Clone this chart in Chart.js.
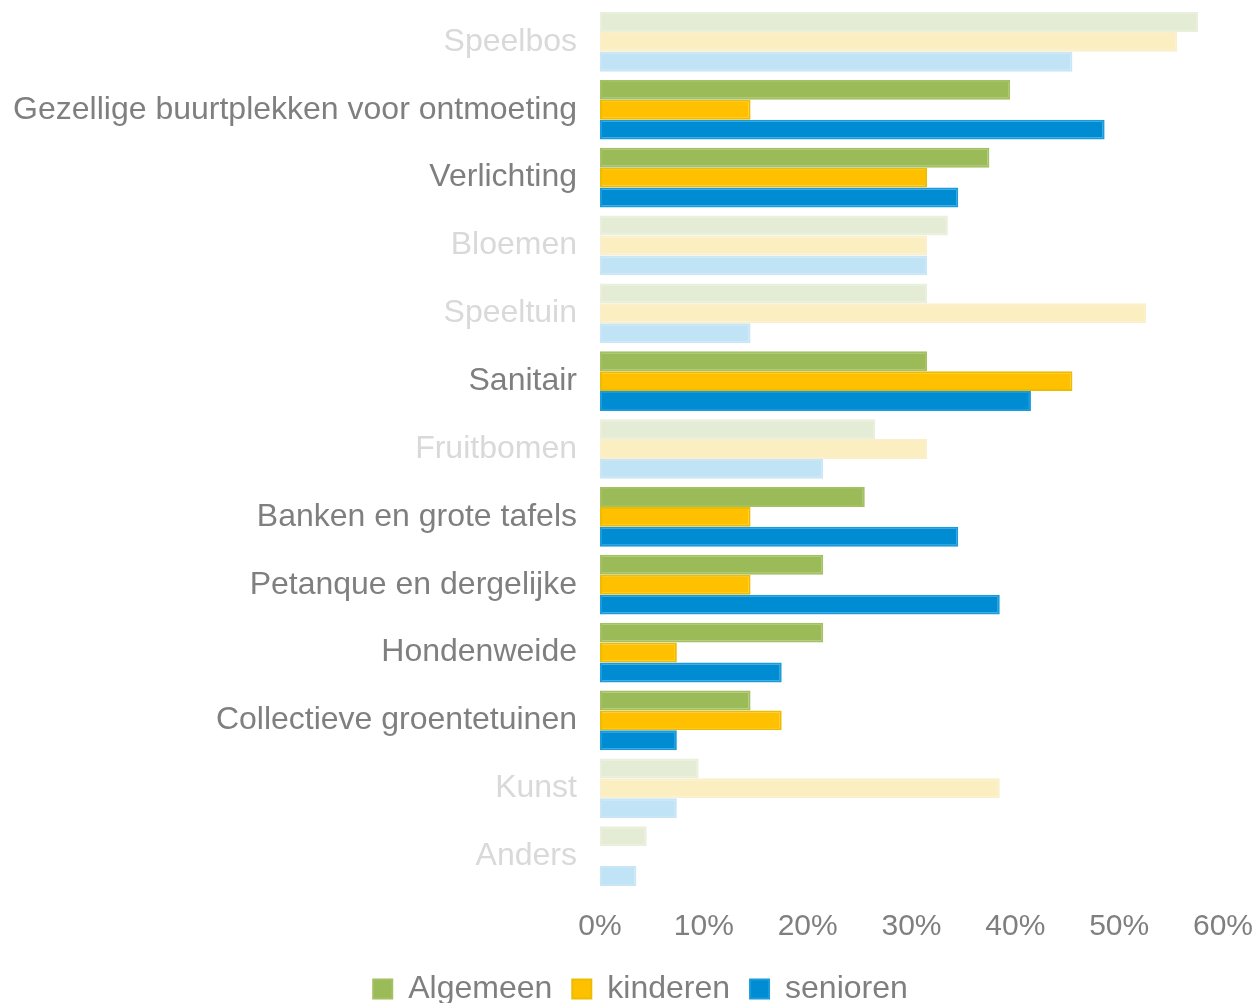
<!DOCTYPE html>
<html>
<head>
<meta charset="utf-8">
<script src="https://cdn.jsdelivr.net/npm/chart.js@4/dist/chart.umd.min.js"></script>
<style>
  html,body{margin:0;padding:0;background:#fff;}
  #wrap{width:1259px;height:1003px;}
</style>
</head>
<body>
<div id="wrap"><canvas id="chart"></canvas></div>
<script>
/* ---------------- data ---------------- */
const categories = [
  'Speelbos','Gezellige buurtplekken voor ontmoeting','Verlichting','Bloemen','Speeltuin',
  'Sanitair','Fruitbomen','Banken en grote tafels','Petanque en dergelijke','Hondenweide',
  'Collectieve groentetuinen','Kunst','Anders'
];
// categories shown faded in the reference
const faded = [true,false,false,true,true,false,true,false,false,false,false,true,true];

const algemeen  = [57.6, 39.5, 37.5, 33.5, 31.5, 31.5, 26.5, 25.5, 21.5, 21.5, 14.5,  9.5, 4.5];
const kinderen  = [55.6, 14.5, 31.5, 31.5, 52.6, 45.5, 31.5, 14.5, 14.5,  7.4, 17.5, 38.5, 0];
const senioren  = [45.5, 48.6, 34.5, 31.5, 14.5, 41.5, 21.5, 34.5, 38.5, 17.5,  7.4,  7.4, 3.5];

const xTicks = [0,10,20,30,40,50,60];

/* ---------------- styles ---------------- */
const FONT = '"Liberation Sans", Arial, sans-serif';
const GRAY = '#7f7f7f', LIGHT = '#d9d9d9';
const pal = {
  Algemeen: {fill:'#9bbb59', edge:'#a3c063', fillF:'#e4ecd5', edgeF:'#e8efdb'},
  kinderen: {fill:'#ffc000', edge:'#edbb00', fillF:'#fbeec0', edgeF:'#faefca'},
  senioren: {fill:'#008cd2', edge:'#1a9bdb', fillF:'#c0e3f5', edgeF:'#c8e6f6'}
};
const byCat = (on, off) => faded.map(f => f ? off : on);

const mkSet = (label, data) => ({
  label, data,
  backgroundColor: byCat(pal[label].fill, pal[label].fillF),
  borderColor: byCat(pal[label].edge, pal[label].edgeF),
  borderWidth: 2,
  borderSkipped: false,
  categoryPercentage: 0.88,
  barPercentage: 1.0
});

// nudge the legend row a bit right/up, like the original
const legendShift = {
  id: 'legendShift',
  afterLayout(chart){
    const lg = chart.legend;
    if(lg){ lg.left += 22; lg.right += 22; lg.top -= 3; lg.bottom -= 3; }
  }
};

new Chart(document.getElementById('chart'), {
  type: 'bar',
  data: {
    labels: categories,
    datasets: [mkSet('Algemeen', algemeen), mkSet('kinderen', kinderen), mkSet('senioren', senioren)]
  },
  plugins: [legendShift],
  options: {
    indexAxis: 'y',
    responsive: true,
    maintainAspectRatio: false,
    animation: false,
    layout: {padding: {top: 8, left: 14, right: 36, bottom: -15}},
    scales: {
      x: {
        min: 0, max: 60,
        afterBuildTicks: s => { s.ticks = xTicks.map(v => ({value: v})); },
        afterFit: s => { s.height = 66; s.paddingLeft = 0; s.paddingRight = 0; },
        grid: {display: false, drawTicks: false},
        border: {display: false},
        ticks: {
          color: GRAY, padding: 19,
          font: {family: FONT, size: 30},
          callback: v => v + '%'
        }
      },
      y: {
        afterFit: s => { s.width = 586; s.paddingTop = 0; s.paddingBottom = 0; },
        grid: {display: false, drawTicks: false},
        border: {display: false},
        ticks: {
          padding: 23,
          color: ctx => faded[ctx.index] ? LIGHT : GRAY,
          font: {family: FONT, size: 32}
        }
      }
    },
    plugins: {
      tooltip: {enabled: false},
      legend: {
        position: 'bottom',
        labels: {
          color: GRAY,
          boxWidth: 19, boxHeight: 19,
          padding: 20,
          font: {family: FONT, size: 32},
          generateLabels: chart => chart.data.datasets.map((d, i) => ({
            text: d.label,
            fillStyle: pal[d.label].fill,
            strokeStyle: pal[d.label].edge,
            lineWidth: 2,
            fontColor: GRAY,
            datasetIndex: i
          }))
        }
      }
    }
  }
});
</script>
</body>
</html>
